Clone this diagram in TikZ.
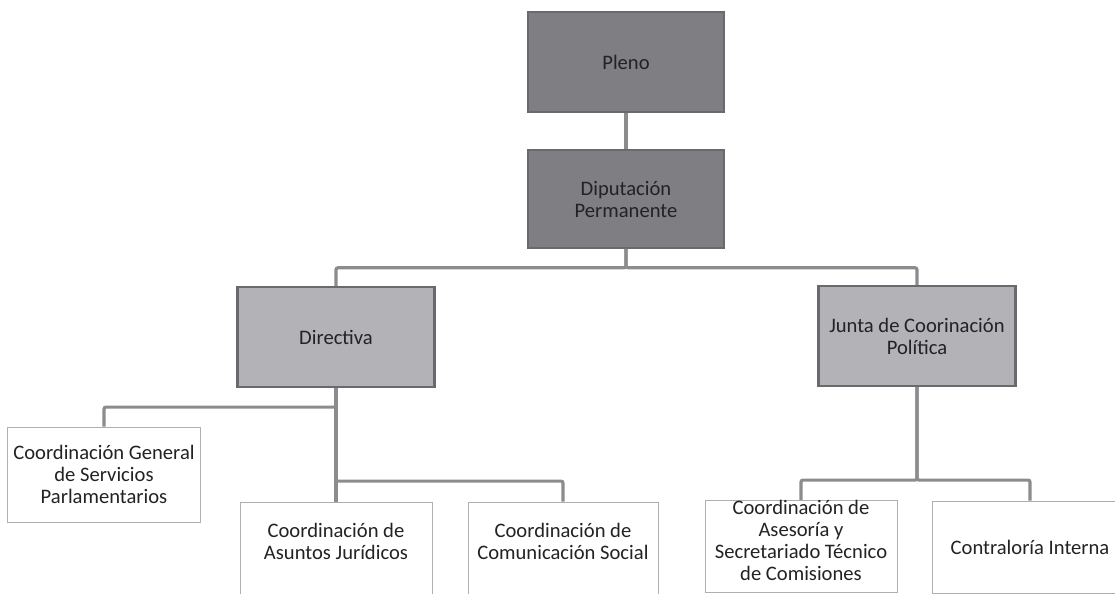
\documentclass[tikz,border=0pt]{standalone}
\usepackage{fontspec}
\setmainfont{Carlito}
\usepackage{xcolor}
\definecolor{orgdark}{RGB}{126, 126, 131}
\definecolor{orglight}{RGB}{178, 178, 183}
\definecolor{orgedge}{RGB}{105, 105, 110}
\definecolor{orgline}{RGB}{140, 140, 142}
\definecolor{orgthin}{RGB}{175, 175, 175}
\definecolor{orgtext}{RGB}{35, 35, 35}
\usetikzlibrary{positioning}

\begin{document}
\begin{tikzpicture}[x=0.5pt, y=-0.5pt,
    every node/.style={font=\fontsize{10.3}{11}\selectfont, text=orgtext, align=center, inner sep=2pt},
    topbox/.style={draw=orgedge, fill=orgdark, line width=0.8pt, minimum width=98pt, minimum height=50pt},
    midbox/.style={draw=orgedge, fill=orglight, line width=1.1pt, minimum width=98.5pt, minimum height=50pt},
    unitbox/.style={draw=orgthin, fill=white, line width=0.5pt, minimum width=96pt, minimum height=46pt},
    link/.style={draw=orgline, line width=1.6pt, rounded corners=1pt}]

% === Marco ===
\useasboundingbox (0,0) rectangle (1115,594);
\clip (0,0) rectangle (1115,594);

% === Órganos superiores ===
\node[topbox] (pleno) at (626, 62) {Pleno};
\node[topbox, minimum height=49pt] (diput) at (626, 199) {Diputación\\Permanente};

% === Segundo nivel ===
\node[midbox] (direct) at (336, 337) {Directiva};
\node[midbox] (junta) at (917, 336) {Junta de Coorinación\\Política};

% === Unidades ===
\node[unitbox, minimum width=96.5pt, minimum height=47.5pt] (cgsp) at (104, 474.5)
    {Coordinación General\\de Servicios\\Parlamentarios};
\node[unitbox, text depth=7pt] (caj) at (336, 548) {Coordinación de\\Asuntos Jurídicos};
\node[unitbox, text depth=7pt, minimum width=95pt] (ccs) at (563, 548) {Coordinación de\\Comunicación Social};
\node[unitbox, anchor=north, inner ysep=0pt, minimum height=0pt, text depth=6pt] (cast) at (801, 500)
    {Coordinación de\\Asesoría y\\Secretariado Técnico\\de Comisiones};
\node[unitbox, minimum width=98pt] (cint) at (1030, 547) {Contraloría Interna};

% === Conectores ===
\draw[link] (pleno.south) -- (diput.north);
\draw[link] (diput.south) -- ++(0,19) -| (direct.north);
\draw[link] (diput.south) -- ++(0,19) -| (junta.north);

\draw[link] (direct.south) -- ++(0,19) -| (cgsp.north);
\draw[link] (direct.south) -- (caj.north);
\draw[link] (direct.south) -- ++(0,93) -| (ccs.north);

\draw[link] (junta.south) -- ++(0,93) -| (cast.north);
\draw[link] (junta.south) -- ++(0,93) -| (cint.north);

\end{tikzpicture}
\end{document}
